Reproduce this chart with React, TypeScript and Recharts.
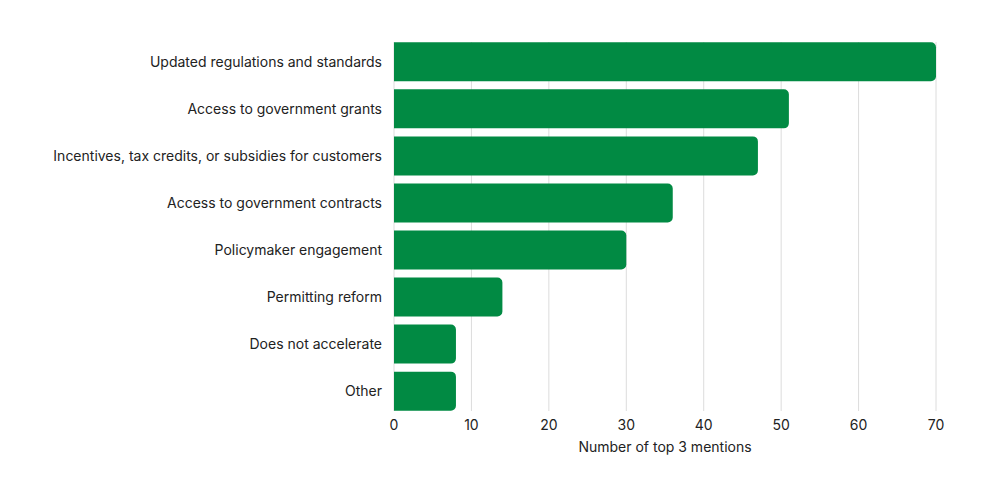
import { BarChart, Bar, XAxis, YAxis, CartesianGrid } from "recharts";

const categories = [
  "Updated regulations and standards",
  "Access to government grants",
  "Incentives, tax credits, or subsidies for customers",
  "Access to government contracts",
  "Policymaker engagement",
  "Permitting reform",
  "Does not accelerate",
  "Other",
];

const mentions = [70, 51, 47, 36, 30, 14, 8, 8];

const xTicks = [0, 10, 20, 30, 40, 50, 60, 70];

const data = categories.map((name, i) => ({ name, mentions: mentions[i] }));

const font = "Inter, 'Noto Sans', sans-serif";
const tickStyle = { fontFamily: font, fontSize: 14, fill: "#222222" };

export default function App() {
  return (
    <div style={{ position: "absolute", left: 0, top: 0, background: "#fff" }}>
      <BarChart
        width={1000}
        height={492}
        data={data}
        layout="vertical"
        margin={{ top: 38.3, right: 64, bottom: 37.3, left: 0 }}
      >
        <CartesianGrid
          horizontal={false}
          stroke="#dcdcdc"
          y={42}
          height={369}
        />
        <XAxis
          type="number"
          domain={[0, 70]}
          ticks={xTicks}
          axisLine={false}
          tickLine={false}
          tickSize={0}
          tickMargin={5}
          height={40}
          tick={tickStyle}
          label={{
            value: "Number of top 3 mentions",
            position: "insideBottom",
            offset: 3,
            style: { fontFamily: font, fontSize: 14, fill: "#222222" },
          }}
        />
        <YAxis
          type="category"
          dataKey="name"
          width={394}
          axisLine={false}
          tickLine={false}
          tickSize={0}
          tickMargin={12}
          tick={tickStyle}
          interval={0}
        />
        <Bar
          dataKey="mentions"
          fill="#018A43"
          barSize={39}
          radius={[0, 5, 5, 0]}
          isAnimationActive={false}
        />
      </BarChart>
    </div>
  );
}
